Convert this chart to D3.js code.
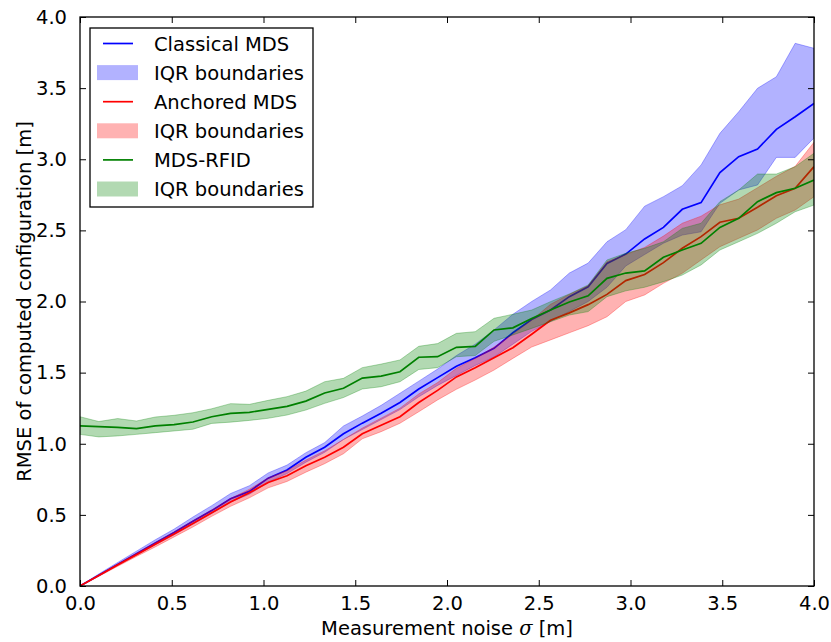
<!DOCTYPE html>
<html>
<head>
<meta charset="utf-8">
<script src="https://cdn.jsdelivr.net/npm/d3@7"></script>
<style>
  body { margin: 0; background: #fff; }
  text { font-family: "DejaVu Sans", sans-serif; fill: #000; }
</style>
</head>
<body>
<div class="chart"></div>
<script>
// noise levels (40 steps from 0 to 4)
const noise = [0, 0.1026, 0.2051, 0.3077, 0.4103, 0.5128, 0.6154, 0.7179, 0.8205, 0.9231,
  1.0256, 1.1282, 1.2308, 1.3333, 1.4359, 1.5385, 1.641, 1.7436, 1.8462, 1.9487,
  2.0513, 2.1538, 2.2564, 2.359, 2.4615, 2.5641, 2.6667, 2.7692, 2.8718, 2.9744,
  3.0769, 3.1795, 3.2821, 3.3846, 3.4872, 3.5897, 3.6923, 3.7949, 3.8974, 4.0];

const classical = [0, 0.075, 0.152, 0.226, 0.303, 0.376, 0.455, 0.530, 0.614, 0.665,
  0.758, 0.815, 0.905, 0.975, 1.07, 1.145, 1.215, 1.29, 1.385, 1.465,
  1.545, 1.605, 1.671, 1.78, 1.873, 1.94, 2.034, 2.104, 2.268, 2.333,
  2.44, 2.521, 2.648, 2.695, 2.906, 3.018, 3.072, 3.21, 3.299, 3.393];
const classicalLo = [0, 0.07, 0.145, 0.218, 0.29, 0.36, 0.435, 0.51, 0.59, 0.645,
  0.73, 0.79, 0.87, 0.94, 1.03, 1.1, 1.17, 1.24, 1.33, 1.41,
  1.48, 1.55, 1.61, 1.7, 1.79, 1.86, 1.93, 2.0, 2.1, 2.25,
  2.33, 2.41, 2.467, 2.49, 2.69, 2.784, 2.819, 3.013, 3.013, 3.15];
const classicalHi = [0, 0.085, 0.165, 0.245, 0.325, 0.4, 0.485, 0.565, 0.65, 0.705,
  0.795, 0.85, 0.937, 1.008, 1.125, 1.195, 1.27, 1.355, 1.44, 1.525,
  1.62, 1.7, 1.8, 1.91, 2.0, 2.081, 2.2, 2.27, 2.42, 2.505,
  2.67, 2.737, 2.814, 2.96, 3.182, 3.334, 3.499, 3.58, 3.815, 3.78];

const anchored = [0, 0.073, 0.148, 0.22, 0.293, 0.365, 0.44, 0.515, 0.59, 0.655,
  0.728, 0.775, 0.845, 0.905, 0.975, 1.07, 1.13, 1.19, 1.29, 1.375,
  1.47, 1.535, 1.605, 1.675, 1.77, 1.868, 1.92, 1.978, 2.05, 2.147,
  2.19, 2.273, 2.374, 2.456, 2.557, 2.585, 2.662, 2.744, 2.796, 2.948];
const anchoredLo = [0, 0.068, 0.138, 0.208, 0.275, 0.345, 0.415, 0.49, 0.56, 0.62,
  0.69, 0.735, 0.8, 0.86, 0.93, 1.035, 1.085, 1.144, 1.225, 1.308,
  1.383, 1.448, 1.518, 1.6, 1.68, 1.73, 1.78, 1.83, 1.893, 2.0,
  2.046, 2.128, 2.198, 2.292, 2.385, 2.444, 2.503, 2.585, 2.643, 2.737];
const anchoredHi = [0, 0.078, 0.155, 0.23, 0.305, 0.38, 0.458, 0.535, 0.615, 0.68,
  0.76, 0.81, 0.885, 0.95, 1.03, 1.11, 1.18, 1.25, 1.35, 1.43,
  1.53, 1.6, 1.68, 1.77, 1.87, 1.98, 2.05, 2.11, 2.28, 2.33,
  2.38, 2.46, 2.55, 2.6, 2.68, 2.72, 2.8, 2.88, 2.95, 3.12];

const rfid = [1.125, 1.12, 1.115, 1.106, 1.125, 1.134, 1.153, 1.19, 1.214, 1.221,
  1.242, 1.263, 1.3, 1.357, 1.39, 1.462, 1.476, 1.506, 1.608, 1.612,
  1.678, 1.685, 1.8, 1.815, 1.88, 1.94, 1.997, 2.04, 2.163, 2.2,
  2.215, 2.311, 2.362, 2.409, 2.521, 2.585, 2.702, 2.765, 2.796, 2.854];
const rfidLo = [1.066, 1.048, 1.055, 1.066, 1.078, 1.09, 1.102, 1.143, 1.152, 1.164,
  1.179, 1.202, 1.237, 1.284, 1.325, 1.385, 1.401, 1.436, 1.522, 1.535,
  1.612, 1.62, 1.72, 1.765, 1.811, 1.858, 1.905, 1.929, 2.034, 2.075,
  2.1, 2.139, 2.186, 2.257, 2.362, 2.42, 2.479, 2.55, 2.631, 2.678];
const rfidHi = [1.19, 1.156, 1.177, 1.16, 1.188, 1.2, 1.218, 1.246, 1.282, 1.277,
  1.305, 1.331, 1.37, 1.436, 1.46, 1.535, 1.56, 1.589, 1.685, 1.704,
  1.776, 1.788, 1.882, 1.91, 1.94, 1.999, 2.053, 2.116, 2.292, 2.339,
  2.374, 2.42, 2.514, 2.55, 2.702, 2.784, 2.896, 2.896, 2.948, 3.042];

const xTicks = [0, 0.5, 1, 1.5, 2, 2.5, 3, 3.5, 4];
const yTicks = [0, 0.5, 1, 1.5, 2, 2.5, 3, 3.5, 4];

const series = [
  {name: "Classical MDS", color: "#0000ff", mean: classical, lo: classicalLo, hi: classicalHi},
  {name: "Anchored MDS", color: "#ff0000", mean: anchored, lo: anchoredLo, hi: anchoredHi},
  {name: "MDS-RFID", color: "#008000", mean: rfid, lo: rfidLo, hi: rfidHi}
];

const width = 831, height = 642;
const margin = {left: 80, right: 17, top: 17, bottom: 56};
const fontSize = "19.5px";

const svg = d3.select(".chart").append("svg")
  .attr("width", width)
  .attr("height", height);

const x = d3.scaleLinear().domain([0, 4]).range([margin.left, width - margin.right]);
const y = d3.scaleLinear().domain([0, 4]).range([height - margin.bottom, margin.top]);

svg.append("clipPath").attr("id", "plotclip")
  .append("rect")
  .attr("x", x(0)).attr("y", y(4))
  .attr("width", x(4) - x(0)).attr("height", y(0) - y(4));

const plot = svg.append("g").attr("clip-path", "url(#plotclip)");

const line = (vals) => d3.line()
  .x((d, i) => x(noise[i]))
  .y(d => y(d))(vals);

const area = (lo, hi) => d3.area()
  .x((d, i) => x(noise[i]))
  .y0((d, i) => y(lo[i]))
  .y1((d, i) => y(hi[i]))(noise);

// same order as the legend: line then its band
series.forEach(s => {
  plot.append("path")
    .attr("d", line(s.mean))
    .attr("fill", "none")
    .attr("stroke", s.color)
    .attr("stroke-width", 1.7);
  plot.append("path")
    .attr("d", area(s.lo, s.hi))
    .attr("fill", s.color)
    .attr("fill-opacity", 0.3)
    .attr("stroke", s.color)
    .attr("stroke-opacity", 0.3)
    .attr("stroke-width", 1);
});

// axes, ticks pointing inward on all four sides
const tickLen = 6;
const fmt = d3.format(".1f");

svg.append("g")
  .attr("transform", `translate(0,${y(0)})`)
  .call(d3.axisBottom(x).tickValues(xTicks).tickFormat(fmt).tickSizeInner(-tickLen).tickSizeOuter(0).tickPadding(10))
  .call(g => g.select(".domain").remove());
svg.append("g")
  .attr("transform", `translate(0,${y(4)})`)
  .call(d3.axisTop(x).tickValues(xTicks).tickFormat("").tickSizeInner(-tickLen).tickSizeOuter(0))
  .call(g => g.select(".domain").remove());
svg.append("g")
  .attr("transform", `translate(${x(0)},0)`)
  .call(d3.axisLeft(y).tickValues(yTicks).tickFormat(fmt).tickSizeInner(-tickLen).tickSizeOuter(0).tickPadding(13))
  .call(g => g.select(".domain").remove());
svg.append("g")
  .attr("transform", `translate(${x(4)},0)`)
  .call(d3.axisRight(y).tickValues(yTicks).tickFormat("").tickSizeInner(-tickLen).tickSizeOuter(0))
  .call(g => g.select(".domain").remove());

svg.selectAll(".tick line").attr("stroke", "#000").attr("stroke-width", 1);
svg.selectAll(".tick text")
  .style("font-family", "'DejaVu Sans', sans-serif")
  .style("font-size", fontSize);

svg.append("rect")
  .attr("x", x(0)).attr("y", y(4))
  .attr("width", x(4) - x(0)).attr("height", y(0) - y(4))
  .attr("fill", "none")
  .attr("stroke", "#000")
  .attr("stroke-width", 1.3);

// axis labels
const xLabel = svg.append("text")
  .attr("x", (x(0) + x(4)) / 2)
  .attr("y", 635)
  .attr("text-anchor", "middle")
  .style("font-size", fontSize);
xLabel.append("tspan").text("Measurement noise ");
xLabel.append("tspan").style("font-style", "italic").style("font-family", "'DejaVu Serif', serif").text("σ");
xLabel.append("tspan").text(" [m]");

svg.append("text")
  .attr("transform", `translate(31,${(y(0) + y(4)) / 2}) rotate(-90)`)
  .attr("text-anchor", "middle")
  .style("font-size", fontSize)
  .text("RMSE of computed configuration [m]");

// legend
const legend = svg.append("g").attr("transform", "translate(90,28)");
legend.append("rect")
  .attr("width", 223).attr("height", 179)
  .attr("fill", "#fff")
  .attr("stroke", "#000")
  .attr("stroke-width", 1.3);

const entries = [];
series.forEach(s => {
  entries.push({label: s.name, color: s.color, kind: "line"});
  entries.push({label: "IQR boundaries", color: s.color, kind: "patch"});
});

const rowH = 29.1;
entries.forEach((e, i) => {
  const cy = 15.5 + i * rowH;
  if (e.kind === "line") {
    legend.append("line")
      .attr("x1", 13).attr("x2", 43)
      .attr("y1", cy).attr("y2", cy)
      .attr("stroke", e.color)
      .attr("stroke-width", 1.7);
  } else {
    legend.append("rect")
      .attr("x", 7).attr("y", cy - 7.5)
      .attr("width", 41).attr("height", 15)
      .attr("fill", e.color)
      .attr("fill-opacity", 0.3);
  }
  legend.append("text")
    .attr("x", 64).attr("y", cy)
    .attr("dy", "0.36em")
    .style("font-size", fontSize)
    .text(e.label);
});
</script>
</body>
</html>
